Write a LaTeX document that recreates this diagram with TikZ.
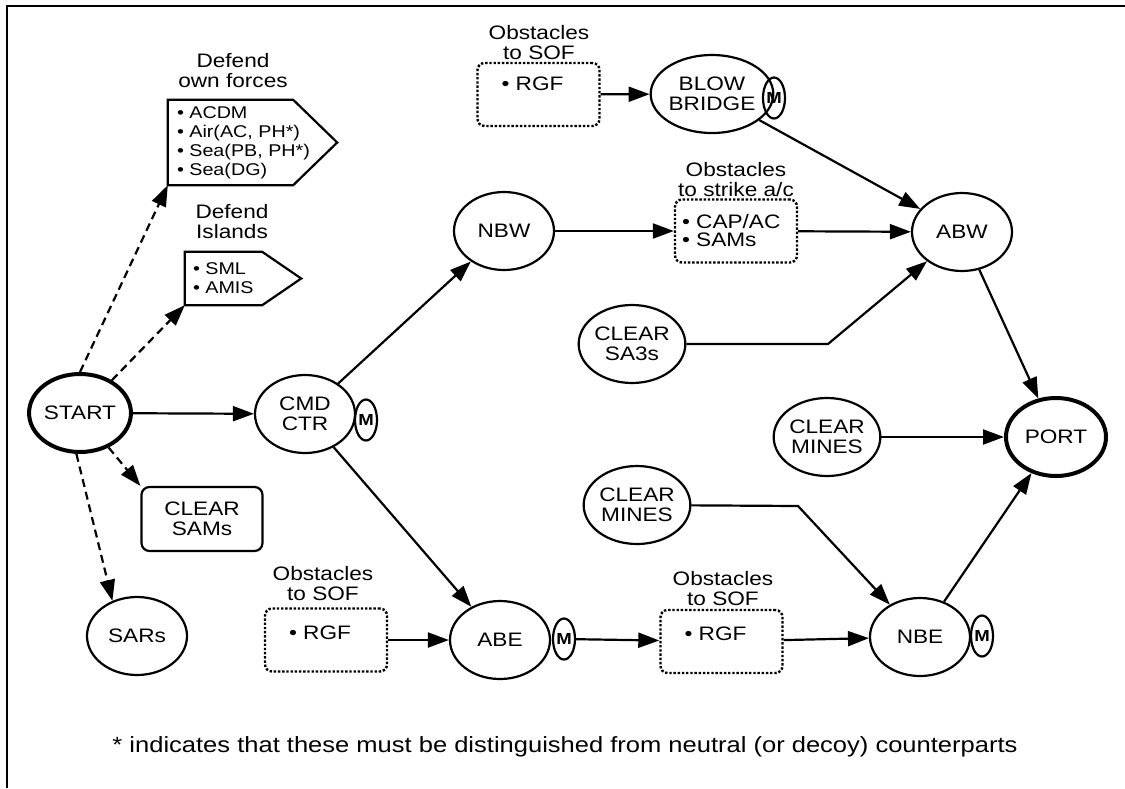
\documentclass[tikz,border=0pt]{standalone}
\usepackage{fontspec}
\setmainfont[FakeStretch=1.16]{Liberation Sans}
\usetikzlibrary{shapes.geometric,arrows.meta}

\begin{document}
\begin{tikzpicture}[
  x = 1pt, y = -1pt,
  every node/.style = {font = \fontsize{19.5}{20}\selectfont, align = center},
  state/.style = {draw, ellipse, line width = 2.2pt, inner sep = 0pt,
                  minimum width = 100pt, minimum height = 78pt},
  terminal/.style = {state, line width = 4pt},
  mflag/.style = {draw, ellipse, line width = 2.2pt, inner sep = 0pt,
                  minimum width = 22pt, minimum height = 41pt,
                  font = \bfseries\fontsize{16}{16}\selectfont},
  obstacle/.style = {draw, line width = 2.4pt, dash pattern = on 2.4pt off 1.8pt,
                     rounded corners = 7pt, minimum width = 122pt, minimum height = 63pt},
  task/.style = {draw, line width = 2.2pt, rounded corners = 8pt,
                 minimum width = 121pt, minimum height = 64pt},
  pentbox/.style = {inner sep = 0pt},
  pent/.style = {line width = 2.2pt, line join = miter},
  items/.style = {align = left, inner sep = 0pt},
  smallitems/.style = {items, font = \fontsize{17}{19}\selectfont},
  flow/.style = {-{Triangle[length = 21pt, width = 15pt]}, line width = 2.2pt},
  option/.style = {flow, dash pattern = on 8pt off 5pt},
  ]
  \useasboundingbox (0,0) rectangle (1125,788);
  \draw[line width = 2.4pt] (7,788) |- (1125,6);

  % left side
  \node[terminal] (start) at (80,413) {START};
  \node[state] (cmd) at (305,414) {CMD\\CTR};
  \node[mflag] (cmdm) at (366,420) {M};
  \node[task] (clsams) at (202,519) {CLEAR\\SAMs};
  \node[state] (sars) at (137,636) {SARs};

  \node[pentbox, minimum width = 125pt, minimum height = 85pt] (ownbox) at (230.5,142.5) {};
  \draw[pent] (ownbox.south west) |- (ownbox.north east)
    -- ([xshift = 44pt]ownbox.east) -- (ownbox.south east) -- cycle;
  \node[smallitems, anchor = west] (ownlist) at ([xshift = 9pt]ownbox.west)
    {\textbullet\ ACDM\\\textbullet\ Air(AC, PH*)\\\textbullet\ Sea(PB, PH*)\\\textbullet\ Sea(DG)};
  \node (owncap) at (233,71) {Defend\\own forces};

  \node[pentbox, minimum width = 77pt, minimum height = 53pt] (islbox) at (223.5,278.5) {};
  \draw[pent] (islbox.south west) |- (islbox.north east)
    -- ([xshift = 39pt]islbox.east) -- (islbox.south east) -- cycle;
  \node[smallitems, anchor = west] (isllist) at ([xshift = 8pt]islbox.west)
    {\textbullet\ SML\\\textbullet\ AMIS};
  \node (islcap) at (232,222) {Defend\\Islands};

  % obstacles
  \node[obstacle] (sofa) at (538.5,94.5) {};
  \node[items, anchor = west] (sofalist) at ([shift = {(25pt,-22pt)}]sofa.north west) {\textbullet\ RGF};
  \node (sofacap) at (539,43) {Obstacles\\to SOF};

  \node[obstacle] (strike) at (736,231) {};
  \node[items, anchor = west, font = \fontsize{19.5}{18}\selectfont] (strikelist) at ([xshift = 8pt]strike.west)
    {\textbullet\ CAP/AC\\\textbullet\ SAMs};
  \node (strikecap) at (736,180) {Obstacles\\to strike a/c};

  \node[obstacle] (sofb) at (326,640) {};
  \node[items, anchor = west] (sofblist) at ([shift = {(25pt,-25pt)}]sofb.north west) {\textbullet\ RGF};
  \node (sofbcap) at (323,584) {Obstacles\\to SOF};

  \node[obstacle] (sofc) at (721.5,641.5) {};
  \node[items, anchor = west] (sofclist) at ([shift = {(25pt,-25pt)}]sofc.north west) {\textbullet\ RGF};
  \node (sofccap) at (723,589) {Obstacles\\to SOF};

  % right side
  \node[state] (blow) at (712,94) {BLOW\\BRIDGE};
  \node[mflag] (blowm) at (774,98) {M};
  \node[state] (nbw) at (504,231) {NBW};
  \node[state] (abw) at (962,232) {ABW};
  \node[state] (sa3s) at (632,344) {CLEAR\\SA3s};
  \node[state] (minesa) at (827,437) {CLEAR\\MINES};
  \node[terminal] (port) at (1056,437) {PORT};
  \node[state] (minesb) at (637,505) {CLEAR\\MINES};
  \node[state] (abe) at (500,640) {ABE};
  \node[mflag] (abem) at (564,639) {M};
  \node[state] (nbe) at (920,637) {NBE};
  \node[mflag] (nbem) at (982,636) {M};

  \coordinate (sa3sbend) at (828,344);
  \coordinate (minesbend) at (798,506);

  % connectors
  \draw[option] (start.north) -- (ownbox.south west);
  \draw[option] (start) -- (islbox.south west);
  \draw[option] (start) -- (clsams.north west);
  \draw[option] (start.265) -- (sars.125);
  \draw[flow] (start) -- (cmd);
  \draw[flow] (cmd) -- (nbw);
  \draw[flow] (cmd) -- (abe);
  \draw[flow] (nbw) -- (strike);
  \draw[flow] (strike) -- (abw);
  \draw[flow] (sofa) -- (blow);
  \draw[flow] (blow) -- (abw);
  \draw[flow] (sa3s) -- (sa3sbend) -- (abw);
  \draw[flow] (abw) -- (port);
  \draw[flow] (minesa) -- (port);
  \draw[flow] (minesb) -- (minesbend) -- (nbe);
  \draw[flow] (nbe) -- (port);
  \draw[flow] (sofb) -- (abe);
  \draw[flow] (abem) -- (sofc);
  \draw[flow] (sofc) -- (nbe);

  \node[font = \fontsize{22}{22}\selectfont] (note) at (565,747) {* indicates that these must be distinguished from neutral (or decoy) counterparts};
\end{tikzpicture}
\end{document}
